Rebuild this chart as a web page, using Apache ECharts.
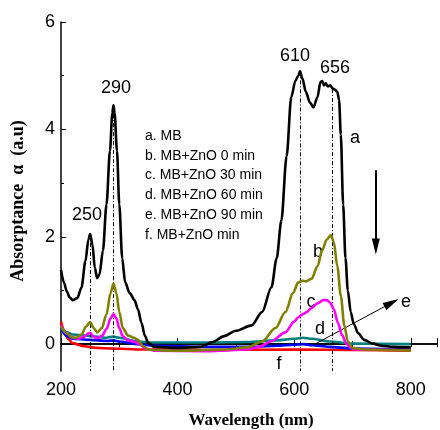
<!DOCTYPE html>
<html>
<head>
<meta charset="utf-8">
<script src="https://cdn.jsdelivr.net/npm/echarts@6/dist/echarts.min.js"></script>
<style>
  html, body { margin: 0; padding: 0; background: #fff; overflow: hidden; }
  #chart { width: 440px; height: 430px; }
</style>
</head>
<body>
<div id="chart"></div>
<script>
// Absorption spectra of methylene blue (MB) with ZnO, [wavelength nm, absorptance]
const curveA = [[200,1.38],[205,1.15],[210,0.98],[215,0.87],[220,0.82],[228,0.86],[235,1.05],[242,1.55],[247,1.95],[250,2.05],[254,1.85],[258,1.42],[262,1.23],[266,1.3],[272,1.75],[278,2.6],[284,3.6],[288,4.3],[290,4.45],[292,4.3],[296,3.6],[300,2.6],[305,1.6],[310,1.15],[318,0.95],[326,0.82],[332,0.65],[338,0.4],[344,0.15],[350,0.02],[360,-0.05],[400,-0.07],[440,-0.05],[460,0.04],[480,0.15],[500,0.25],[527,0.35],[545,0.6],[561,1.06],[570,1.6],[578,2.3],[587,3.5],[595,4.6],[602,4.9],[607,5.0],[610,5.08],[614,4.95],[620,4.7],[627,4.5],[633,4.41],[640,4.6],[645,4.88],[648,4.9],[651,4.82],[654,4.86],[658,4.8],[662,4.82],[666,4.76],[670,4.74],[674,4.7],[677,4.55],[680,3.9],[684,2.6],[688,1.6],[692,1.0],[697,0.6],[702,0.38],[710,0.2],[720,0.08],[735,0.01],[750,-0.03],[770,-0.05],[800,-0.06]];
const curveB = [[200,0.33],[210,0.2],[218,0.13],[226,0.12],[235,0.18],[243,0.33],[250,0.41],[256,0.3],[262,0.22],[270,0.3],[278,0.55],[285,0.95],[290,1.13],[295,0.95],[300,0.6],[306,0.3],[315,0.16],[325,0.12],[332,0.08],[340,-0.03],[350,-0.1],[380,-0.12],[420,-0.12],[480,-0.1],[520,-0.06],[545,0.05],[568,0.3],[585,0.6],[598,0.95],[607,1.15],[614,1.18],[620,1.17],[630,1.22],[640,1.45],[648,1.75],[656,1.95],[663,2.03],[668,1.9],[674,1.45],[680,0.9],[686,0.35],[692,0.05],[700,-0.07],[720,-0.1],[800,-0.12]];
const curveC = [[200,0.35],[210,0.2],[220,0.12],[230,0.1],[240,0.14],[247,0.2],[250,0.21],[256,0.14],[262,0.11],[270,0.15],[278,0.28],[285,0.48],[290,0.56],[295,0.48],[300,0.3],[306,0.15],[315,0.07],[325,0.05],[335,0.0],[345,-0.08],[360,-0.12],[450,-0.13],[520,-0.1],[540,-0.05],[560,0.05],[585,0.22],[600,0.42],[607,0.5],[615,0.56],[622,0.6],[629,0.67],[640,0.76],[650,0.82],[656,0.82],[662,0.77],[668,0.65],[675,0.4],[682,0.17],[690,0.0],[697,-0.07],[705,-0.1],[800,-0.11]];
const curveD = [[200,0.3],[210,0.15],[220,0.1],[250,0.08],[280,0.06],[290,0.07],[300,0.05],[330,0.0],[360,-0.03],[450,-0.05],[530,-0.05],[570,-0.03],[600,-0.01],[615,0.0],[630,-0.02],[660,-0.05],[700,-0.08],[800,-0.1]];
const curveE = [[200,0.3],[210,0.22],[220,0.18],[250,0.15],[275,0.12],[290,0.14],[300,0.12],[330,0.05],[360,0.03],[450,0.03],[520,0.04],[570,0.07],[600,0.1],[615,0.12],[630,0.1],[660,0.05],[700,0.01],[800,0.0]];
const curveF = [[200,0.42],[206,0.25],[212,0.1],[220,0.02],[240,-0.04],[260,-0.07],[290,-0.08],[340,-0.1],[450,-0.11],[600,-0.1],[700,-0.11],[800,-0.12]];

const legendLines = ['a. MB', 'b. MB+ZnO 0 min', 'c. MB+ZnO 30 min', 'd. MB+ZnO 60 min', 'e. MB+ZnO 90 min', 'f. MB+ZnO min'];
const peakMarks = [[250, 2.05], [290, 4.45], [610, 5.08], [665, 4.75]];
const yLabelValues = [0, 2, 4, 6];
const yMinorValues = [1, 3, 5];

const chart = echarts.init(document.getElementById('chart'), null, { renderer: 'canvas' });

const sans = 'Liberation Sans, Arial, sans-serif';
const serif = 'Liberation Serif, Times New Roman, serif';

function lineSeries(data, color, z) {
  return {
    type: 'line', data: data, showSymbol: false, smooth: 0.3, smoothMonotone: 'x',
    lineStyle: { color: color, width: 2.6 }, z: z, silent: true
  };
}

const legendText = legendLines.map((t, i) => ({
  type: 'text', left: 145, top: 129 + i * 19.8,
  style: { text: t, font: '14px ' + sans, fill: '#000' }
}));

function label(text, x, y) {
  return { type: 'text', x: x, y: y,
    style: { text: text, font: '18px ' + sans, fill: '#000', align: 'center', verticalAlign: 'middle' } };
}

const option = {
  animation: false,
  backgroundColor: '#fff',
  grid: { left: 61, right: 0, top: 22, bottom: 59 },
  xAxis: [{
    type: 'value', min: 200, max: 845, interval: 200, position: 'bottom',
    axisLine: { lineStyle: { color: '#000', width: 1.5 } },
    axisTick: { inside: true, length: 6, lineStyle: { color: '#000', width: 1 } },
    minorTick: { show: true, splitNumber: 2, length: 3, lineStyle: { color: '#000', width: 1 } },
    axisLabel: { margin: 10, fontSize: 18, fontFamily: sans, color: '#000',
      formatter: v => (v % 200 === 0 && v <= 800) ? String(v) : '' },
    splitLine: { show: false }
  }, {
    type: 'value', min: 200, max: 845, interval: 100, position: 'top',
    axisLine: { lineStyle: { color: '#000', width: 1.5 } },
    axisTick: { inside: true, length: 3, lineStyle: { color: '#000', width: 1 } },
    axisLabel: { show: false }, splitLine: { show: false }
  }],
  yAxis: [{
    type: 'value', min: -0.5, max: 6, position: 'left',
    axisLine: { show: true, lineStyle: { color: '#000', width: 1.5 } },
    axisTick: { show: true, inside: true, length: 5, customValues: yLabelValues, lineStyle: { color: '#000', width: 1 } },
    axisLabel: { margin: 6, fontSize: 18, fontFamily: sans, color: '#000', customValues: yLabelValues },
    splitLine: { show: false }
  }, {
    type: 'value', min: -0.5, max: 6, position: 'left',
    axisLine: { show: false },
    axisTick: { show: true, inside: true, length: 3, customValues: yMinorValues, lineStyle: { color: '#000', width: 1 } },
    axisLabel: { show: false },
    splitLine: { show: false }
  }],
  series: [
    lineSeries(curveF, '#ff0000', 2),
    lineSeries(curveD, '#0000ff', 3),
    lineSeries(curveE, '#008080', 4),
    lineSeries(curveC, '#ff00ff', 5),
    lineSeries(curveB, '#808000', 6),
    Object.assign(lineSeries(curveA, '#000000', 7), {
      markLine: {
        silent: true, symbol: 'none', animation: false,
        label: { show: false },
        lineStyle: { color: '#000', width: 1, type: [4, 2, 1, 2] },
        data: peakMarks.map(p => [{ coord: [p[0], p[1]] }, { coord: [p[0], -0.5] }])
      }
    }),
    {
      type: 'line', data: [], silent: true,
      markLine: {
        silent: true, animation: false, label: { show: false },
        symbol: ['none', 'triangle'],
        data: [
          [{ coord: [740, 3.24], lineStyle: { width: 2, color: '#000', type: 'solid' }, symbolSize: [7, 12] },
           { coord: [740, 1.82] }],
          [{ coord: [632, -0.02], lineStyle: { width: 1, color: '#000', type: 'solid' }, symbolSize: [6, 10] },
           { coord: [767, 0.77] }]
        ]
      }
    }
  ],
  graphic: [
    label('250', 87, 215), label('290', 116, 88), label('610', 295, 56), label('656', 335, 68),
    label('a', 355, 138), label('b', 318, 252), label('c', 311, 302), label('d', 320, 329),
    label('e', 406, 302), label('f', 279, 364),
    { type: 'text', x: 251, y: 421,
      style: { text: 'Wavelength (nm)', font: 'bold 17px ' + serif, fill: '#000', align: 'center', verticalAlign: 'middle' } },
    { type: 'text', x: 18, y: 201, rotation: Math.PI / 2,
      style: { text: 'Absorptance  \u03b1  (a.u)', font: 'bold 18px ' + serif, fill: '#000', align: 'center', verticalAlign: 'middle' } }
  ].concat(legendText)
};

chart.setOption(option);
</script>
</body>
</html>
